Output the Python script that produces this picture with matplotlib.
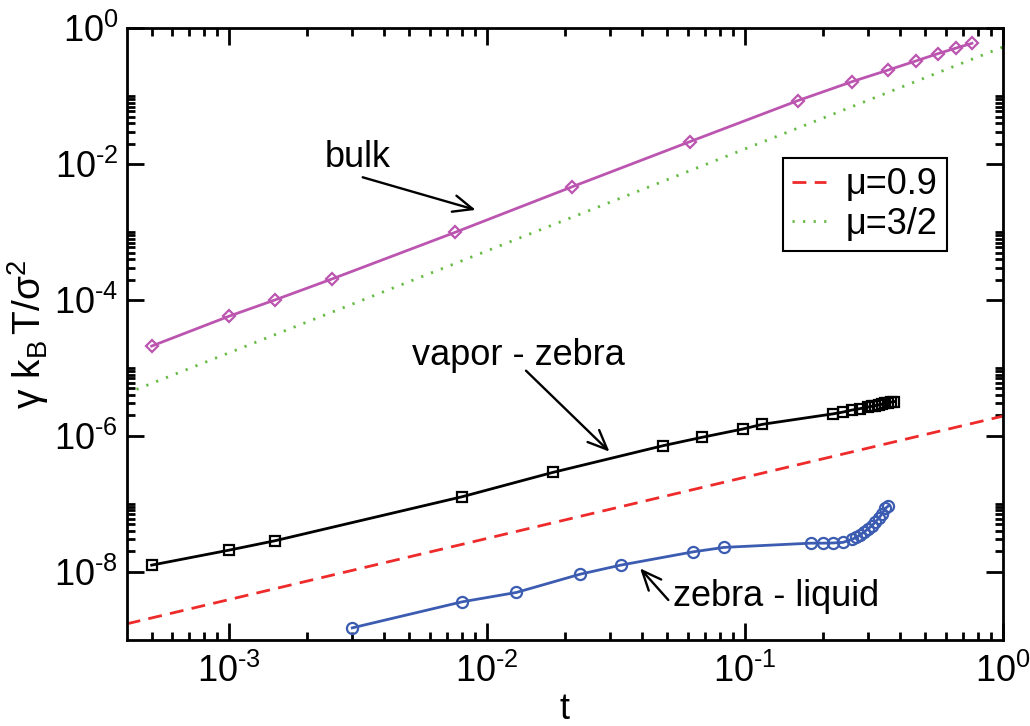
import numpy as np
import matplotlib
matplotlib.use("Agg")
import matplotlib.pyplot as plt
from matplotlib.ticker import FixedLocator, FixedFormatter, NullFormatter

plt.rcParams["font.family"] = ["Liberation Sans", "DejaVu Sans"]
plt.rcParams["mathtext.fontset"] = "custom"
plt.rcParams["mathtext.rm"] = "Liberation Sans"
plt.rcParams["mathtext.it"] = "Liberation Sans:italic"
plt.rcParams["mathtext.bf"] = "Liberation Sans:bold"

# ---- data: reduced surface tension vs reduced temperature t ----
bulk_t = [5e-4, 1e-3, 1.5e-3, 2.5e-3, 7.5e-3, 0.0214, 0.061, 0.16, 0.26,
          0.36, 0.46, 0.56, 0.66, 0.76]
bulk_gamma = [2.1e-5, 5.8e-5, 1.0e-4, 2.04e-4, 9.9e-4, 4.66e-3, 0.0214,
              0.086, 0.164, 0.244, 0.331, 0.424, 0.514, 0.603]

vz_t = [5e-4, 1e-3, 1.5e-3, 8e-3, 0.018, 0.048, 0.068, 0.098, 0.117, 0.22,
        0.24, 0.26, 0.28, 0.30, 0.31, 0.32, 0.33, 0.34, 0.35, 0.36, 0.37, 0.38]
vz_gamma = [1.25e-8, 2.08e-8, 2.85e-8, 1.27e-7, 2.9e-7, 7.15e-7, 9.5e-7,
            1.26e-6, 1.48e-6, 2.11e-6, 2.24e-6, 2.40e-6, 2.52e-6, 2.66e-6,
            2.72e-6, 2.79e-6, 2.86e-6, 2.93e-6, 3.0e-6, 3.07e-6, 3.14e-6, 3.2e-6]

zl_t = [0.003, 0.008, 0.013, 0.023, 0.033, 0.063, 0.083, 0.18, 0.20, 0.22,
        0.24, 0.26, 0.27, 0.28, 0.29, 0.30, 0.31, 0.32, 0.33, 0.34, 0.35, 0.36]
zl_gamma = [1.49e-9, 3.6e-9, 4.95e-9, 9.2e-9, 1.25e-8, 1.96e-8, 2.28e-8,
            2.63e-8, 2.63e-8, 2.65e-8, 2.70e-8, 2.99e-8, 3.2e-8, 3.46e-8,
            3.87e-8, 4.24e-8, 4.74e-8, 5.32e-8, 6.1e-8, 7.05e-8, 8.55e-8, 9.25e-8]

# power-law guides gamma = A * t**mu
mu_exponents = [0.9, 1.5]
mu_amplitudes = [1.95e-6, 0.53]
mu_labels = ["\u03bc=0.9", "\u03bc=3/2"]
t_range = [4e-4, 1.0]

# axis ticks
x_major_exp = [-3, -2, -1, 0]
y_major_exp = [-8, -6, -4, -2, 0]
y_range = [1e-9, 1.0]


def decade_label(e):
    # short hyphen in the exponent, as in the axis style used here
    sign = "\u2010" if e < 0 else ""
    return r"$10^{%s%d}$" % (sign, abs(e))


# ---- figure ----
fig = plt.figure(figsize=(10.30, 7.26), dpi=100)
ax = fig.add_axes([0.1230, 0.1190, 0.8505, 0.8419])
ax.set_xscale("log")
ax.set_yscale("log")

LW = 2.0
guide_styles = [dict(color="#ee2a2a", linestyle=(0, (5.0, 3.0))),
                dict(color="#66bb44", linestyle=(0, (0.8, 3.0)))]
guides = []
for mu, amp, lab, st in zip(mu_exponents, mu_amplitudes, mu_labels, guide_styles):
    t_line = np.array(t_range)
    ln, = ax.plot(t_line, amp * t_line ** mu, lw=LW, label=lab, **st)
    guides.append(ln)

ax.plot(bulk_t, bulk_gamma, color="#bb55b0", lw=LW, marker="D", ms=6.5,
        mfc="none", mec="#bb55b0", mew=1.6)
ax.plot(vz_t, vz_gamma, color="black", lw=LW, marker="s", ms=7,
        mfc="none", mec="black", mew=1.6)
ax.plot(zl_t, zl_gamma, color="#3c5cb2", lw=LW, marker="o", ms=8,
        mfc="none", mec="#3c5cb2", mew=1.6)

ax.set_xlim(*t_range)
ax.set_ylim(*y_range)

# ticks
x_major = [10.0 ** e for e in x_major_exp]
x_minor = [k * 10.0 ** e for e in range(-4, 0) for k in range(2, 10)
           if t_range[0] < k * 10.0 ** e < t_range[1]]
y_major = [10.0 ** e for e in y_major_exp]
y_minor = [k * 10.0 ** e for e in y_major_exp[:-1] for k in range(2, 11)]

ax.xaxis.set_major_locator(FixedLocator(x_major))
ax.xaxis.set_major_formatter(FixedFormatter([decade_label(e) for e in x_major_exp]))
ax.xaxis.set_minor_locator(FixedLocator(x_minor))
ax.xaxis.set_minor_formatter(NullFormatter())
ax.yaxis.set_major_locator(FixedLocator(y_major))
ax.yaxis.set_major_formatter(FixedFormatter([decade_label(e) for e in y_major_exp]))
ax.yaxis.set_minor_locator(FixedLocator(y_minor))
ax.yaxis.set_minor_formatter(NullFormatter())

ax.tick_params(which="both", direction="in", top=True, right=True,
               width=2.0, labelsize=26)
ax.tick_params(which="major", length=12)
ax.tick_params(which="minor", length=6)
ax.tick_params(axis="x", which="major", pad=10)
ax.tick_params(axis="y", which="major", pad=6)
for sp in ax.spines.values():
    sp.set_linewidth(2.0)

ax.set_xlabel("t", fontsize=26, labelpad=2)
ax.set_ylabel(r"$\mathrm{\gamma\ k_{B}\,T/\sigma^{2}}$", fontsize=28)
ax.yaxis.set_label_coords(-0.086, 0.5)

# curve labels with arrows
ax.text(0.2264, 0.7737, "bulk", transform=ax.transAxes, fontsize=26,
        ha="left", va="baseline")
ax.text(0.3253, 0.4493, "vapor - zebra", transform=ax.transAxes, fontsize=26,
        ha="left", va="baseline")
ax.text(0.624, 0.055, "zebra - liquid", transform=ax.transAxes, fontsize=26,
        ha="left", va="baseline")

arrow_kw = dict(arrowstyle="->,head_length=0.7,head_width=0.3", lw=1.7,
                color="black", shrinkA=0, shrinkB=0, mutation_scale=20)
ax.annotate("", xy=(0.3984, 0.7030), xytext=(0.2694, 0.7564),
            xycoords="axes fraction", arrowprops=arrow_kw)
ax.annotate("", xy=(0.5511, 0.3075), xytext=(0.4558, 0.4400),
            xycoords="axes fraction", arrowprops=arrow_kw)
ax.annotate("", xy=(0.5860, 0.1166), xytext=(0.6183, 0.0648),
            xycoords="axes fraction", arrowprops=arrow_kw)

leg = ax.legend(handles=guides, loc="upper left", bbox_to_anchor=(0.749, 0.7875),
                fontsize=26, frameon=True, fancybox=False, framealpha=1,
                edgecolor="black", borderpad=0.25, handlelength=0.95,
                handletextpad=0.55, labelspacing=0.12, borderaxespad=0)
leg.get_frame().set_linewidth(1.5)

fig.savefig("out.png", dpi=100)
